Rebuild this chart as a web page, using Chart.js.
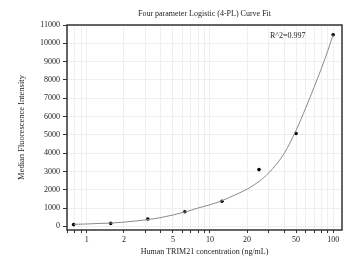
<!DOCTYPE html>
<html>
<head>
<meta charset="utf-8">
<script src="https://cdn.jsdelivr.net/npm/chart.js@4"></script>
<style>
  html, body { margin: 0; padding: 0; background: #fff; }
  #wrap { width: 348px; height: 262px; }
</style>
</head>
<body>
<div id="wrap"><canvas id="chart"></canvas></div>
<script>
// 4-PL standard curve

const concentrations = [0.78125, 1.5625, 3.125, 6.25, 12.5, 25, 50, 100];
const mfiValues = [95, 160, 400, 800, 1370, 3100, 5070, 10470];

// fitted curve
const fitX = [0.78125, 1, 1.5625, 2, 3.125, 4, 5, 6.25, 8, 10, 12.5, 16, 20, 25, 30, 40, 50, 60, 70, 80, 90, 100];
const fitY = [110, 130, 180, 230, 370, 480, 620, 780, 1000, 1180, 1400, 1720, 2030, 2450, 2920, 3980, 5250, 6480, 7600, 8600, 9550, 10470];

const xTickValues = [0.7, 0.8, 0.9, 1, 2, 3, 4, 5, 6, 7, 8, 9, 10, 20, 30, 40, 50, 60, 70, 80, 90, 100];
const xTickLabels = [1, 2, 5, 10, 20, 50, 100];
const yTickValues = [];
for (let v = 0; v <= 11000; v += 500) yTickValues.push(v);

const serif = 'Liberation Serif';

// frame + chart title + R^2 note
const framePlugin = {
  id: 'frame',
  afterDraw(chart) {
    const { ctx, chartArea: a } = chart;
    ctx.save();
    ctx.strokeStyle = '#333';
    ctx.lineWidth = 1.5;
    ctx.strokeRect(a.left, a.top, a.right - a.left, a.bottom - a.top);
    ctx.fillStyle = '#222';
    ctx.font = '8px "' + serif + '"';
    ctx.textAlign = 'center';
    ctx.textBaseline = 'middle';
    ctx.fillText('Four parameter Logistic (4-PL) Curve Fit', (a.left + a.right) / 2, 14);
    ctx.textAlign = 'left';
    ctx.fillText('R^2=0.997', 270, 36);
    ctx.restore();
  }
};

new Chart(document.getElementById('chart'), {
  type: 'scatter',
  data: {
    datasets: [
      {
        label: 'fit',
        data: fitX.map((x, i) => ({ x: x, y: fitY[i] })),
        showLine: true,
        borderColor: '#8a8a8a',
        borderWidth: 1,
        pointRadius: 0,
        cubicInterpolationMode: 'monotone'
      },
      {
        label: 'points',
        data: concentrations.map((x, i) => ({ x: x, y: mfiValues[i] })),
        backgroundColor: '#000',
        borderColor: '#000',
        pointRadius: 1.8,
        borderWidth: 0
      }
    ]
  },
  options: {
    responsive: true,
    maintainAspectRatio: false,
    animation: false,
    layout: { padding: { top: 25, right: 6, left: 0, bottom: 0 } },
    plugins: {
      legend: { display: false },
      tooltip: { enabled: false }
    },
    scales: {
      x: {
        type: 'logarithmic',
        min: 0.69,
        max: 118,
        afterBuildTicks: s => { s.ticks = xTickValues.map(v => ({ value: v })); },
        afterFit: s => { s.height = 32; },
        ticks: {
          autoSkip: false,
          maxRotation: 0,
          padding: 2,
          color: '#222',
          font: { family: serif, size: 8 },
          callback: v => xTickLabels.includes(v) ? String(v) : ''
        },
        grid: { color: '#efefef', tickColor: '#333', tickLength: 3, lineWidth: 1 },
        border: { display: false },
        title: {
          display: true,
          text: 'Human TRIM21 concentration (ng/mL)',
          color: '#222',
          font: { family: serif, size: 8 },
          padding: { top: 0, bottom: 5 }
        }
      },
      y: {
        min: -200,
        max: 11000,
        afterBuildTicks: s => { s.ticks = yTickValues.map(v => ({ value: v })); },
        afterFit: s => { s.width = 67; },
        ticks: {
          padding: 3,
          color: '#222',
          font: { family: serif, size: 8 },
          callback: v => v % 1000 === 0 ? String(v) : ''
        },
        grid: { color: '#efefef', tickColor: '#333', tickLength: 4, lineWidth: 1 },
        border: { display: false },
        title: {
          display: true,
          text: 'Median Fluorescence Intensity',
          color: '#222',
          font: { family: serif, size: 8.5 },
          padding: { top: 17, bottom: 0 }
        }
      }
    }
  },
  plugins: [framePlugin]
});
</script>
</body>
</html>
